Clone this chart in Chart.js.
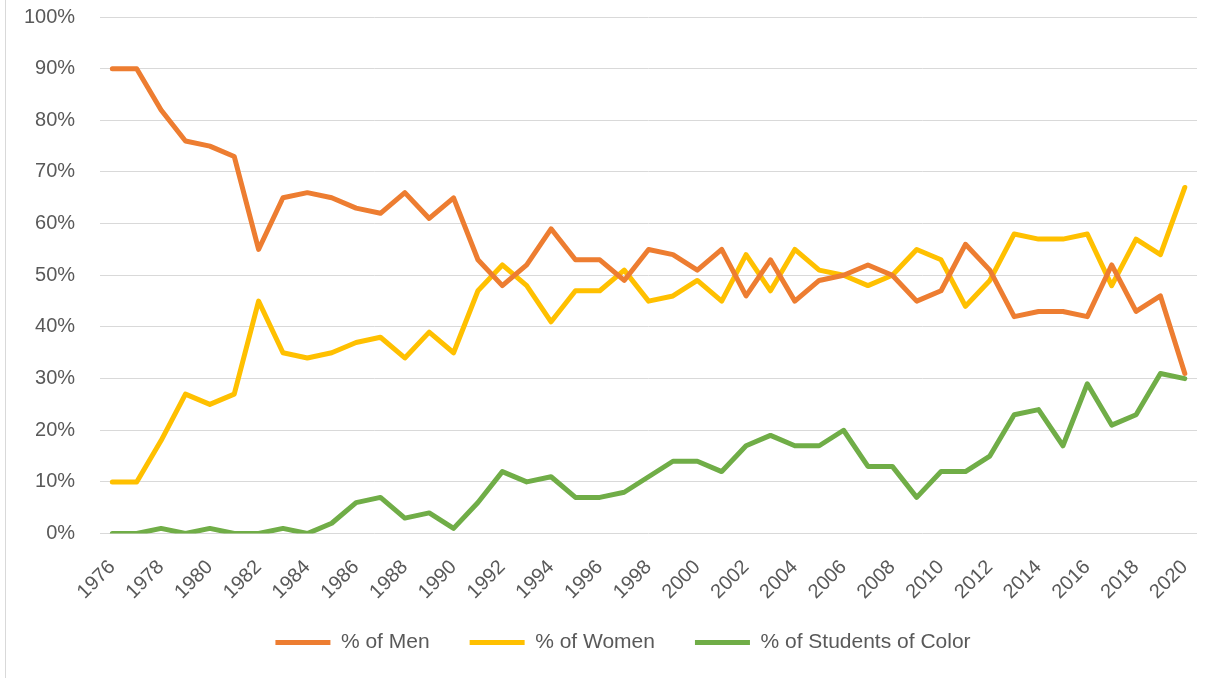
<!DOCTYPE html>
<html>
<head>
<meta charset="utf-8">
<script src="https://cdn.jsdelivr.net/npm/chart.js@4.4.0/dist/chart.umd.min.js"></script>
<style>
  html, body { margin: 0; padding: 0; background: #fff; }
  #wrap { position: relative; width: 1225px; height: 678px; }
  #edge { position: absolute; left: 5px; top: 0; width: 1px; height: 678px; background: #d9d9d9; }
</style>
</head>
<body>
<div id="wrap">
  <div id="edge"></div>
  <canvas id="myChart" width="1225" height="678"></canvas>
</div>
<script>
// one entry per year, 1976 - 2020
let years = [];
for (let y = 1976; y <= 2020; y++) {
    years.push(String(y));
}

let menValues = [90, 90, 82, 76, 75, 73, 55, 65, 66, 65, 63, 62, 66, 61, 65,
    53, 48, 52, 59, 53, 53, 49, 55, 54, 51, 55, 46, 53, 45, 49,
    50, 52, 50, 45, 47, 56, 51, 42, 43, 43, 42, 52, 43, 46, 31];

let womenValues = [10, 10, 18, 27, 25, 27, 45, 35, 34, 35, 37, 38, 34, 39, 35,
    47, 52, 48, 41, 47, 47, 51, 45, 46, 49, 45, 54, 47, 55, 51,
    50, 48, 50, 55, 53, 44, 49, 58, 57, 57, 58, 48, 57, 54, 67];

let colorValues = [0, 0, 1, 0, 1, 0, 0, 1, 0, 2, 6, 7, 3, 4, 1,
    6, 12, 10, 11, 7, 7, 8, 11, 14, 14, 12, 17, 19, 17, 17,
    20, 13, 13, 7, 12, 12, 15, 23, 24, 17, 29, 21, 23, 31, 30];

let seriesNames = ['% of Men', '% of Women', '% of Students of Color'];

const textColor = '#595959';
const fontFamily = "'Liberation Sans', Arial, sans-serif";

function lineSet(label, data, color) {
    return {
        label: label,
        data: data,
        borderColor: color,
        backgroundColor: color,
        borderWidth: 5,
        borderCapStyle: 'round',
        borderJoinStyle: 'round',
        pointRadius: 0,
        tension: 0
    };
}

// move the legend a little right and up, like in the original
const legendShift = {
    id: 'legendShift',
    afterLayout(chart) {
        chart.legend.left += 25;
        chart.legend.right += 25;
        chart.legend.top -= 26;
        chart.legend.bottom -= 26;
    }
};

const ctx = document.getElementById('myChart');
const chart = new Chart(ctx, {
    type: 'line',
    data: {
        labels: years,
        datasets: [
            lineSet(seriesNames[0], menValues, '#ED7D31'),
            lineSet(seriesNames[1], womenValues, '#FFC000'),
            lineSet(seriesNames[2], colorValues, '#70AD47')
        ]
    },
    plugins: [legendShift],
    options: {
        responsive: false,
        animation: false,
        layout: {
            padding: { left: -1, right: 28, top: 17, bottom: -11 }
        },
        scales: {
            x: {
                offset: true,
                grid: { display: false },
                border: { display: false },
                ticks: {
                    autoSkip: false,
                    minRotation: 45,
                    maxRotation: 45,
                    padding: 14,
                    color: textColor,
                    font: { family: fontFamily, size: 20 },
                    callback: function (value, index) {
                        return index % 2 === 0 ? years[index] : '';
                    }
                }
            },
            y: {
                min: 0,
                max: 100,
                grid: { color: '#d9d9d9', lineWidth: 1, drawTicks: false },
                border: { display: false },
                afterFit: function (scale) {
                    // don't let the label padding push the plot down
                    scale.paddingTop = 0;
                    scale.paddingBottom = 0;
                },
                ticks: {
                    stepSize: 10,
                    padding: 25,
                    color: textColor,
                    font: { family: fontFamily, size: 20 },
                    callback: function (value) {
                        return value + '%';
                    }
                }
            }
        },
        plugins: {
            tooltip: { enabled: false },
            legend: {
                position: 'bottom',
                labels: {
                    usePointStyle: true,
                    pointStyle: 'line',
                    pointStyleWidth: 55,
                    padding: 40,
                    color: textColor,
                    font: { family: fontFamily, size: 21 }
                }
            }
        }
    }
});
</script>
</body>
</html>
